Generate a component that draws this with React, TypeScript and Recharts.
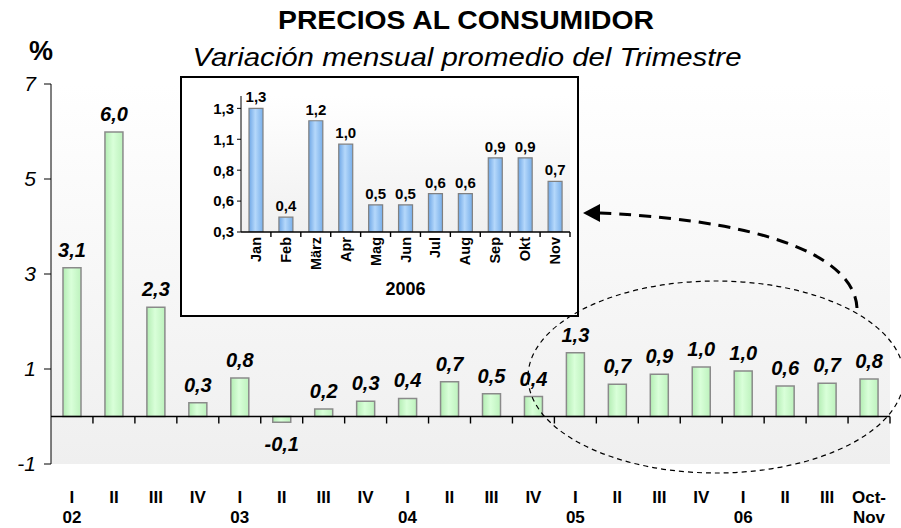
import React from 'react';
import {
  BarChart,
  Bar,
  XAxis,
  YAxis,
  CartesianGrid,
  ReferenceLine,
  LabelList,
  Label
} from 'recharts';

// quarterly series 2002 .. Oct-Nov 2006
const quarters = ['I', 'II', 'III', 'IV', 'I', 'II', 'III', 'IV', 'I', 'II', 'III', 'IV', 'I', 'II', 'III', 'IV', 'I', 'II', 'III', 'Oct-'];
const years = ['02', '', '', '', '03', '', '', '', '04', '', '', '', '05', '', '', '', '06', '', '', 'Nov'];
const quarterlyChange = [3.13, 5.99, 2.3, 0.29, 0.81, -0.12, 0.16, 0.32, 0.38, 0.73, 0.48, 0.42, 1.34, 0.68, 0.89, 1.04, 0.96, 0.64, 0.7, 0.79];
const mainTicks = [-1, 1, 3, 5, 7];

// inset: monthly 2006
const months = ['Jan', 'Feb', 'März', 'Apr', 'Mag', 'Jun', 'Jul', 'Aug', 'Sep', 'Okt', 'Nov'];
const monthlyChange2006 = [1.3, 0.42, 1.2, 1.01, 0.52, 0.52, 0.61, 0.61, 0.9, 0.9, 0.71];
const insetTicks = [0.3, 0.55, 0.8, 1.05, 1.3];

const FONT = '"Liberation Sans", Arial, sans-serif';

const fmt = (v: number) => (Math.round(v * 10) / 10).toFixed(1).replace('.', ',');

const mainData = quarters.map((q, i) => ({ pos: i + 0.5, quarter: q, year: years[i], value: quarterlyChange[i] }));
const insetData = months.map((m, i) => ({ pos: i + 0.5, month: m, value: monthlyChange2006[i] }));

// axis line with tick marks at category boundaries, hanging below the line
const boundaryAxis = (count: number, len: number) => (props: any) => {
  const { x1, y1, x2 } = props;
  const step = (x2 - x1) / count;
  return (
    <g stroke="#000" strokeWidth={1.4}>
      <line x1={x1} y1={y1} x2={x2} y2={y1} />
      {Array.from({ length: count }, (_, k) => (
        <line key={k} x1={x1 + step * (k + 1)} y1={y1} x2={x1 + step * (k + 1)} y2={y1 + len} />
      ))}
    </g>
  );
};

const QuarterTick = ({ x, y, payload }: any) => {
  const i = Math.floor(payload.value);
  return (
    <g fontWeight="bold" fontSize={17} fill="#000">
      <text x={x} y={y + 39} textAnchor="middle">{quarters[i]}</text>
      <text x={x} y={y + 59} textAnchor="middle">{years[i]}</text>
    </g>
  );
};

const MonthTick = ({ x, y, payload }: any) => {
  const i = Math.floor(payload.value);
  const ax = x + 5;
  const ay = y + 5;
  return (
    <text x={ax} y={ay} transform={`rotate(-90, ${ax}, ${ay})`} textAnchor="end"
      fontSize={14.5} fontWeight="bold" fill="#000">
      {months[i]}
    </text>
  );
};

const MainLabel = (props: any) => {
  const { x, y, width, height, value } = props;
  const top = Math.min(y, y + height);
  const bottom = Math.max(y, y + height);
  const ty = value < 0 ? bottom + 29 : top - 11;
  return (
    <text x={x + width / 2} y={ty} textAnchor="middle" fontSize={20} fontWeight="bold"
      fontStyle="italic" fill="#000">
      {fmt(value)}
    </text>
  );
};

const InsetLabel = (props: any) => {
  const { x, y, width, height, value } = props;
  const top = Math.min(y, y + height);
  return (
    <text x={x + width / 2} y={top - 6} textAnchor="middle" fontSize={15} fontWeight="bold" fill="#000">
      {fmt(value)}
    </text>
  );
};

function MonthlyInset() {
  return (
    <div style={{
      position: 'absolute', left: 180, top: 76, width: 399, height: 241,
      boxSizing: 'border-box', border: '2px solid #000', background: '#fff'
    }}>
      <BarChart width={395} height={237} data={insetData} margin={{ top: 18, right: 7, bottom: 13, left: 19 }}>
        <defs>
          <linearGradient id="insetBg" x1="0" y1="0" x2="0" y2="1">
            <stop offset="0%" stopColor="#ffffff" />
            <stop offset="100%" stopColor="#f0f0f0" />
          </linearGradient>
          <linearGradient id="blueBar" x1="0" y1="0" x2="1" y2="0">
            <stop offset="0%" stopColor="#6fa7e6" />
            <stop offset="45%" stopColor="#b5d8fb" />
            <stop offset="100%" stopColor="#78afea" />
          </linearGradient>
        </defs>
        <CartesianGrid horizontal={false} vertical={false} fill="url(#insetBg)" />
        <XAxis type="number" dataKey="pos" domain={[0, 11]} ticks={insetData.map((d) => d.pos)}
          interval={0} height={70} axisLine={false} tickLine={false} tickSize={0} tickMargin={0}
          tick={<MonthTick />}>
          <Label value="2006" position="insideBottom" offset={7}
            style={{ fontSize: 18, fontWeight: 'bold', fill: '#000' }} />
        </XAxis>
        <YAxis domain={[0.3, 1.4]} ticks={insetTicks} allowDataOverflow width={40} stroke="#000"
          tickSize={4} tickMargin={3} tickFormatter={(v: number) => v.toFixed(1).replace('.', ',')}
          tick={{ fontSize: 15, fontWeight: 'bold', fill: '#000' }} />
        <ReferenceLine y={0.3} ifOverflow="visible" shape={boundaryAxis(months.length, 5)} />
        <Bar dataKey="value" barSize={14} fill="url(#blueBar)" stroke="#808080" strokeWidth={1.2}
          isAnimationActive={false}>
          <LabelList dataKey="value" content={<InsetLabel />} />
        </Bar>
      </BarChart>
    </div>
  );
}

export default function App() {
  return (
    <div style={{ position: 'absolute', left: 0, top: 0, width: 901, height: 528, background: '#fff', fontFamily: FONT }}>
      <BarChart width={901} height={528} data={mainData} margin={{ top: 84, right: 11, bottom: 14, left: 11 }}>
        <defs>
          <linearGradient id="plotBg" x1="0" y1="0" x2="0" y2="1">
            <stop offset="0%" stopColor="#ffffff" />
            <stop offset="100%" stopColor="#efefef" />
          </linearGradient>
          <linearGradient id="greenBar" x1="0" y1="0" x2="1" y2="0">
            <stop offset="0%" stopColor="#b3edb3" />
            <stop offset="45%" stopColor="#d9ffd9" />
            <stop offset="100%" stopColor="#bdf2bd" />
          </linearGradient>
        </defs>
        <CartesianGrid horizontal={false} vertical={false} fill="url(#plotBg)" />
        <XAxis type="number" dataKey="pos" domain={[0, 20]} ticks={mainData.map((d) => d.pos)}
          interval={0} height={50} axisLine={false} tickLine={false} tickSize={0} tickMargin={0}
          tick={<QuarterTick />} />
        <YAxis domain={[-1, 7]} ticks={mainTicks} allowDataOverflow width={40} stroke="#000"
          tickSize={7} tickMargin={8}
          tick={{ fontSize: 21, fontStyle: 'italic', fill: '#000' }} />
        <ReferenceLine y={0} shape={boundaryAxis(quarters.length, 7)} />
        <Bar dataKey="value" barSize={18} fill="url(#greenBar)" stroke="#8a8a8a" strokeWidth={1.5}
          isAnimationActive={false}>
          <LabelList dataKey="value" content={<MainLabel />} />
        </Bar>
      </BarChart>

      <MonthlyInset />

      <svg width={901} height={528} style={{ position: 'absolute', left: 0, top: 0, pointerEvents: 'none' }}>
        <text x={466} y={29} textAnchor="middle" fontSize={25} fontWeight="bold" fill="#000"
          textLength={376} lengthAdjust="spacingAndGlyphs">
          PRECIOS AL CONSUMIDOR
        </text>
        <text x={467} y={66} textAnchor="middle" fontSize={25} fontStyle="italic" fill="#000"
          textLength={549} lengthAdjust="spacingAndGlyphs">
          Variación mensual promedio del Trimestre
        </text>
        <text x={41} y={60} textAnchor="middle" fontSize={27} fontWeight="bold" fill="#000">%</text>
        <ellipse cx={716} cy={377} rx={188} ry={96} fill="none" stroke="#000" strokeWidth={1.2}
          strokeDasharray="5 4" />
        <path d="M857 308 C855 265 790 222 600 213" fill="none" stroke="#000" strokeWidth={3}
          strokeDasharray="12 8" />
        <polygon points="583,213 600,204 600,222" fill="#000" />
      </svg>
    </div>
  );
}
